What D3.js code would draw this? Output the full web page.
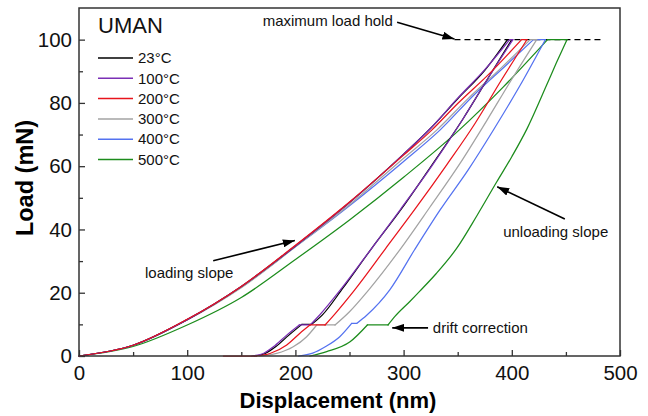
<!DOCTYPE html>
<html>
<head>
<meta charset="utf-8">
<script src="https://cdn.jsdelivr.net/npm/d3@7"></script>
<style>
body { margin: 0; background: #fff; }
svg { display: block; font-family: Arial, "Liberation Sans", sans-serif; }
</style>
</head>
<body>
<div id="chart"></div>
<script>
// load-displacement curves, [displacement nm, load mN]
var temps = ["23°C", "100°C", "200°C", "300°C", "400°C", "500°C"];
var colors = ["#000000", "#7b2fb5", "#e8141c", "#a3a3a3", "#5472f0", "#1c8c1c"];

var curve23 = [[0,0],[50,3.4],[100,11.5],[150,22],[200,34.8],[250,48.5],[300,63.8],[325,72],[350,81.3],[375,90.3],[396,100],
    [400,100],[378,87.8],[355,75],[326,60.3],[298,46.5],[270,33.8],[244,21.5],[225,13],[215,10],
    [206,10],[194,6.6],[182,3],[172,0.8],[162,0]];
var curve100 = [[0,0],[50,3.4],[100,11.5],[150,22],[200,34.8],[250,48.5],[300,63.8],[325,72],[350,81.5],[375,90.5],[398,100],
    [401,100],[378,87.8],[355,75],[326,60],[297,46.3],[270,33.8],[243,21.5],[222,12.8],[213.6,9.8],
    [203.6,9.8],[192,6.6],[179.6,2.9],[170.4,0.8],[159.6,0]];
var curve200 = [[0,0],[50,3.4],[100,11.6],[150,22],[200,35],[250,48.7],[300,63.5],[326,71.4],[350,79.8],[380,89.5],[409,100],
    [414,100],[390,87],[366,73.5],[340,60.5],[312,47.1],[283,33.8],[255,21],[237,13.5],[227.4,9.8],
    [213.5,9.8],[204.2,7.2],[192,3.5],[176.5,0.8],[164,0],[133.4,0]];
var curve300 = [[0,0],[50,3.4],[100,11.4],[150,21.6],[200,34.5],[250,47.8],[300,62.5],[330.6,71.4],[360,81.5],[390,91],[417,100],
    [423,100],[400,87.5],[377,74.5],[352,60.8],[324.4,47.1],[297,33.8],[268,21],[250,14],[236.6,9.8],
    [219.7,9.8],[210.4,6.1],[198,2.9],[182.7,0.8],[167,0]];
var curve400 = [[0,0],[50,3.4],[100,11.5],[150,21.8],[200,34.5],[250,47.5],[300,61.5],[333.6,71.4],[365,82.5],[395,92],[420,100],
    [431,100],[407.6,85.5],[384,72],[360,59],[333.6,46.1],[310,33.5],[287.4,21],[265.9,12.9],[256.6,10.3],
    [252,10.3],[241,6.1],[228,3],[216,0.9],[203,0]];
var curve500 = [[0,0],[50,3],[100,9.8],[150,18.5],[200,30.5],[250,43],[300,56.5],[350,71],[392,85],[433,100],
    [451,100],[441,92.5],[432,85.5],[414,71.8],[400,63],[386,55],[368,44.5],[349,34],[330,26],[315,20.5],[306,17.3],[292,12.5],[285.6,9.8],
    [266.5,9.8],[250.5,4.5],[228.9,1.4],[213.5,0]];
var curves = [curve23, curve100, curve200, curve300, curve400, curve500];
var drawOrder = [5, 4, 3, 0, 1, 2];

var xTicks = [0, 100, 200, 300, 400, 500];
var xMinor = [50, 150, 250, 350, 450];
var yTicks = [0, 20, 40, 60, 80, 100];
var yMinor = [10, 30, 50, 70, 90];
var holdLine = [[347, 100], [484, 100]];

// annotations: text anchor and arrow (from -> tip), in data units
var notes = [
    {text: "maximum load hold", at: [290, 104.3], anchor: "end", from: [294, 105.5], to: [347, 100.2]},
    {text: "loading slope", at: [61, 24.5], anchor: "start", from: [124, 30.1], to: [199.5, 36.5]},
    {text: "unloading slope", at: [392, 37.6], anchor: "start", from: [449, 43.3], to: [386.5, 53.5]},
    {text: "drift correction", at: [327, 7.2], anchor: "start", from: [322.6, 8.9], to: [289.5, 8.9]}
];

var width = 648, height = 416;
var svg = d3.select("#chart").append("svg")
    .attr("width", width)
    .attr("height", height);

var x = d3.scaleLinear().domain([0, 500]).range([79, 620]);
var y = d3.scaleLinear().domain([0, 110]).range([356, 8]);

svg.append("defs").append("marker")
    .attr("id", "arrow")
    .attr("viewBox", "0 0 12 8")
    .attr("refX", 12).attr("refY", 4)
    .attr("markerWidth", 12).attr("markerHeight", 8)
    .attr("markerUnits", "userSpaceOnUse")
    .attr("orient", "auto")
    .append("path")
    .attr("d", "M0,0 L12,4 L0,8 Z")
    .style("fill", "#000");

// axes with inward ticks
var xAxis = svg.append("g").attr("transform", "translate(0,356)")
    .call(d3.axisBottom(x).tickValues(xTicks).tickSizeInner(-6).tickSizeOuter(0).tickPadding(9));
var xAxisMinor = svg.append("g").attr("transform", "translate(0,356)")
    .call(d3.axisBottom(x).tickValues(xMinor).tickSizeInner(-4).tickSizeOuter(0).tickFormat(""));
var yAxis = svg.append("g").attr("transform", "translate(79,0)")
    .call(d3.axisLeft(y).tickValues(yTicks).tickSizeInner(-6).tickSizeOuter(0).tickPadding(7));
var yAxisMinor = svg.append("g").attr("transform", "translate(79,0)")
    .call(d3.axisLeft(y).tickValues(yMinor).tickSizeInner(-4).tickSizeOuter(0).tickFormat(""));

[xAxis, xAxisMinor, yAxis, yAxisMinor].forEach(function(g){
    g.select(".domain").remove();
    g.selectAll("line").attr("stroke", "#333").attr("stroke-width", 1.3);
    g.selectAll("text").style("font-size", "20.5px").style("fill", "#111");
});

svg.append("text")
    .attr("x", 338).attr("y", 408)
    .attr("text-anchor", "middle")
    .style("font-size", "22px").style("font-weight", "bold")
    .text("Displacement (nm)");

svg.append("text")
    .attr("transform", "translate(33,178) rotate(-90)")
    .attr("text-anchor", "middle")
    .style("font-size", "23.5px").style("font-weight", "bold")
    .text("Load (mN)");

svg.append("path")
    .attr("d", "M" + x(holdLine[0][0]) + "," + y(holdLine[0][1]) + "H" + x(holdLine[1][0]))
    .attr("fill", "none")
    .attr("stroke", "#000")
    .attr("stroke-width", 1.3)
    .attr("stroke-dasharray", "6,4");

// split a curve into its loading / hold / unloading / drift pieces:
// flat steps are drawn straight, the rest as monotone curves in x
function pieces(pts){
    var out = [], cur = [pts[0]];
    for (var k = 1; k < pts.length; k++){
        var flat = pts[k][1] === pts[k-1][1];
        var curFlat = cur.length > 1 && cur[1][1] === cur[0][1];
        if (cur.length > 1 && flat !== curFlat){
            out.push(cur);
            cur = [pts[k-1]];
        }
        cur.push(pts[k]);
    }
    out.push(cur);
    return out;
}

var smooth = d3.line()
    .x(function(d){ return x(d[0]); })
    .y(function(d){ return y(d[1]); })
    .curve(d3.curveMonotoneX);
var straight = d3.line()
    .x(function(d){ return x(d[0]); })
    .y(function(d){ return y(d[1]); });

var curveGroup = svg.append("g");
drawOrder.forEach(function(i){
    pieces(curves[i]).forEach(function(p){
        var isFlat = p[1][1] === p[0][1];
        var pts = p.slice().sort(function(a, b){ return a[0] - b[0]; });
        curveGroup.append("path")
            .attr("d", isFlat ? straight(pts) : smooth(pts))
            .attr("fill", "none")
            .attr("stroke", colors[i])
            .attr("stroke-width", 1.25)
            .attr("stroke-linecap", "round");
    });
});

// frame
svg.append("rect")
    .attr("x", x(0)).attr("y", y(110))
    .attr("width", x(500) - x(0)).attr("height", y(0) - y(110))
    .attr("fill", "none")
    .attr("stroke", "#333")
    .attr("stroke-width", 1.5);

// annotations
notes.forEach(function(n){
    svg.append("text")
        .attr("x", x(n.at[0])).attr("y", y(n.at[1]))
        .attr("text-anchor", n.anchor)
        .style("font-size", "15px").style("fill", "#111")
        .text(n.text);
    svg.append("line")
        .attr("x1", x(n.from[0])).attr("y1", y(n.from[1]))
        .attr("x2", x(n.to[0])).attr("y2", y(n.to[1]))
        .attr("stroke", "#000")
        .attr("stroke-width", 1.6)
        .attr("marker-end", "url(#arrow)");
});

// legend
var legend = svg.append("g");
legend.append("text")
    .attr("x", 98).attr("y", 33)
    .style("font-size", "22px").style("fill", "#111")
    .text("UMAN");
temps.forEach(function(t, i){
    var ly = 58 + i * 20.3;
    legend.append("line")
        .attr("x1", 98).attr("x2", 133)
        .attr("y1", ly).attr("y2", ly)
        .attr("stroke", colors[i])
        .attr("stroke-width", 1.5);
    legend.append("text")
        .attr("x", 138).attr("y", ly)
        .attr("dy", "0.35em")
        .style("font-size", "15px").style("fill", "#111")
        .text(t);
});
</script>
</body>
</html>
